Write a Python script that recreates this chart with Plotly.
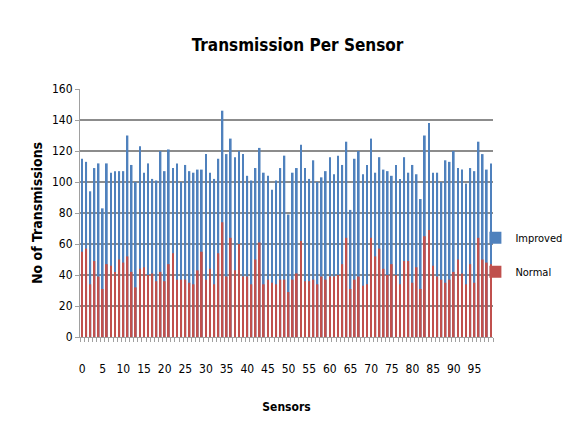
import plotly.graph_objects as go

sensors = list(range(100))
improved = [115, 113, 94, 109, 112, 83, 112, 106, 107, 107,
            107, 130, 111, 100, 123, 106, 112, 102, 101, 120,
            107, 121, 109, 112, 100, 111, 107, 106, 108, 108,
            118, 106, 102, 115, 146, 118, 128, 116, 120, 118,
            104, 101, 109, 122, 106, 104, 95, 101, 109, 117,
            79, 106, 109, 124, 109, 102, 114, 100, 103, 107,
            116, 105, 117, 111, 126, 82, 115, 120, 105, 111,
            128, 106, 116, 108, 107, 104, 111, 102, 116, 106,
            111, 105, 89, 130, 138, 106, 106, 100, 114, 113,
            120, 109, 108, 99, 109, 107, 126, 118, 108, 112]
normal = [55, 57, 34, 49, 39, 31, 47, 46, 42, 50,
          48, 52, 42, 32, 44, 45, 40, 41, 36, 42,
          36, 47, 54, 37, 37, 37, 35, 34, 43, 55,
          37, 44, 34, 54, 74, 39, 64, 43, 60, 39,
          39, 34, 50, 61, 34, 37, 35, 34, 37, 37,
          29, 37, 41, 62, 36, 36, 37, 34, 39, 37,
          39, 39, 40, 47, 64, 31, 37, 39, 33, 34,
          64, 52, 57, 44, 40, 47, 40, 34, 49, 49,
          35, 45, 31, 65, 69, 46, 39, 37, 35, 37,
          42, 50, 41, 34, 47, 35, 64, 50, 48, 47]
x_ticks = list(range(0, 100, 5))

BLUE = "#4F81BD"
RED = "#C0504D"
FONT = "Liberation Sans Narrow, DejaVu Sans Condensed, Liberation Sans, sans-serif"

fig = go.Figure()
fig.add_trace(go.Bar(x=sensors, y=improved, name="Improved", marker_color=BLUE,
                     marker_line_width=0, width=0.42, legendgroup="a"))
fig.add_trace(go.Bar(x=sensors, y=normal, name="Normal", marker_color=RED,
                     marker_line_width=0, width=0.42, legendgroup="b"))

fig.update_layout(
    width=570, height=433,
    barmode="overlay",
    paper_bgcolor="white", plot_bgcolor="white",
    margin=dict(l=72, r=85, t=81, b=104, autoexpand=False),
    font=dict(family=FONT, size=12, color="black"),
    title=dict(text="<b>Transmission Per Sensor</b>", x=0.508, xanchor="center",
               y=0.915, yref="container", yanchor="middle",
               font=dict(family=FONT, size=17, color="black")),
    legend=dict(x=0.82, xref="container", y=0.43, yref="container",
                yanchor="middle", xanchor="left", bgcolor="rgba(0,0,0,0)",
                font=dict(family=FONT, size=11), tracegroupgap=15,
                itemsizing="constant", traceorder="grouped", itemwidth=30),
    xaxis=dict(range=[-0.5, 99.5], tickmode="array", tickvals=x_ticks,
               ticktext=[str(v) for v in x_ticks], showgrid=False,
               showline=True, linecolor="#a0a0a0", linewidth=1,
               ticks="", ticklabelstandoff=21, automargin=False,
               title=dict(text="<b>Sensors</b>", standoff=27,
                          font=dict(family=FONT, size=12)),
               tickfont=dict(family=FONT, size=12)),
    yaxis=dict(range=[0, 160], dtick=20, showgrid=True, gridcolor="#8c8c8c",
               gridwidth=2, showline=True, linecolor="#a0a0a0", linewidth=1,
               zeroline=False, ticks="outside", ticklen=4, tickcolor="#a0a0a0",
               automargin=False,
               title=dict(text="<b>No of Transmissions</b>", standoff=6,
                          font=dict(family=FONT, size=14)),
               tickfont=dict(family=FONT, size=12)),
)

fig.update_xaxes(minor=dict(tickmode="array",
                            tickvals=[s - 0.5 for s in sensors] + [99.5],
                            ticks="outside", ticklen=4, tickcolor="#a0a0a0"))

fig.write_html("out.html")
